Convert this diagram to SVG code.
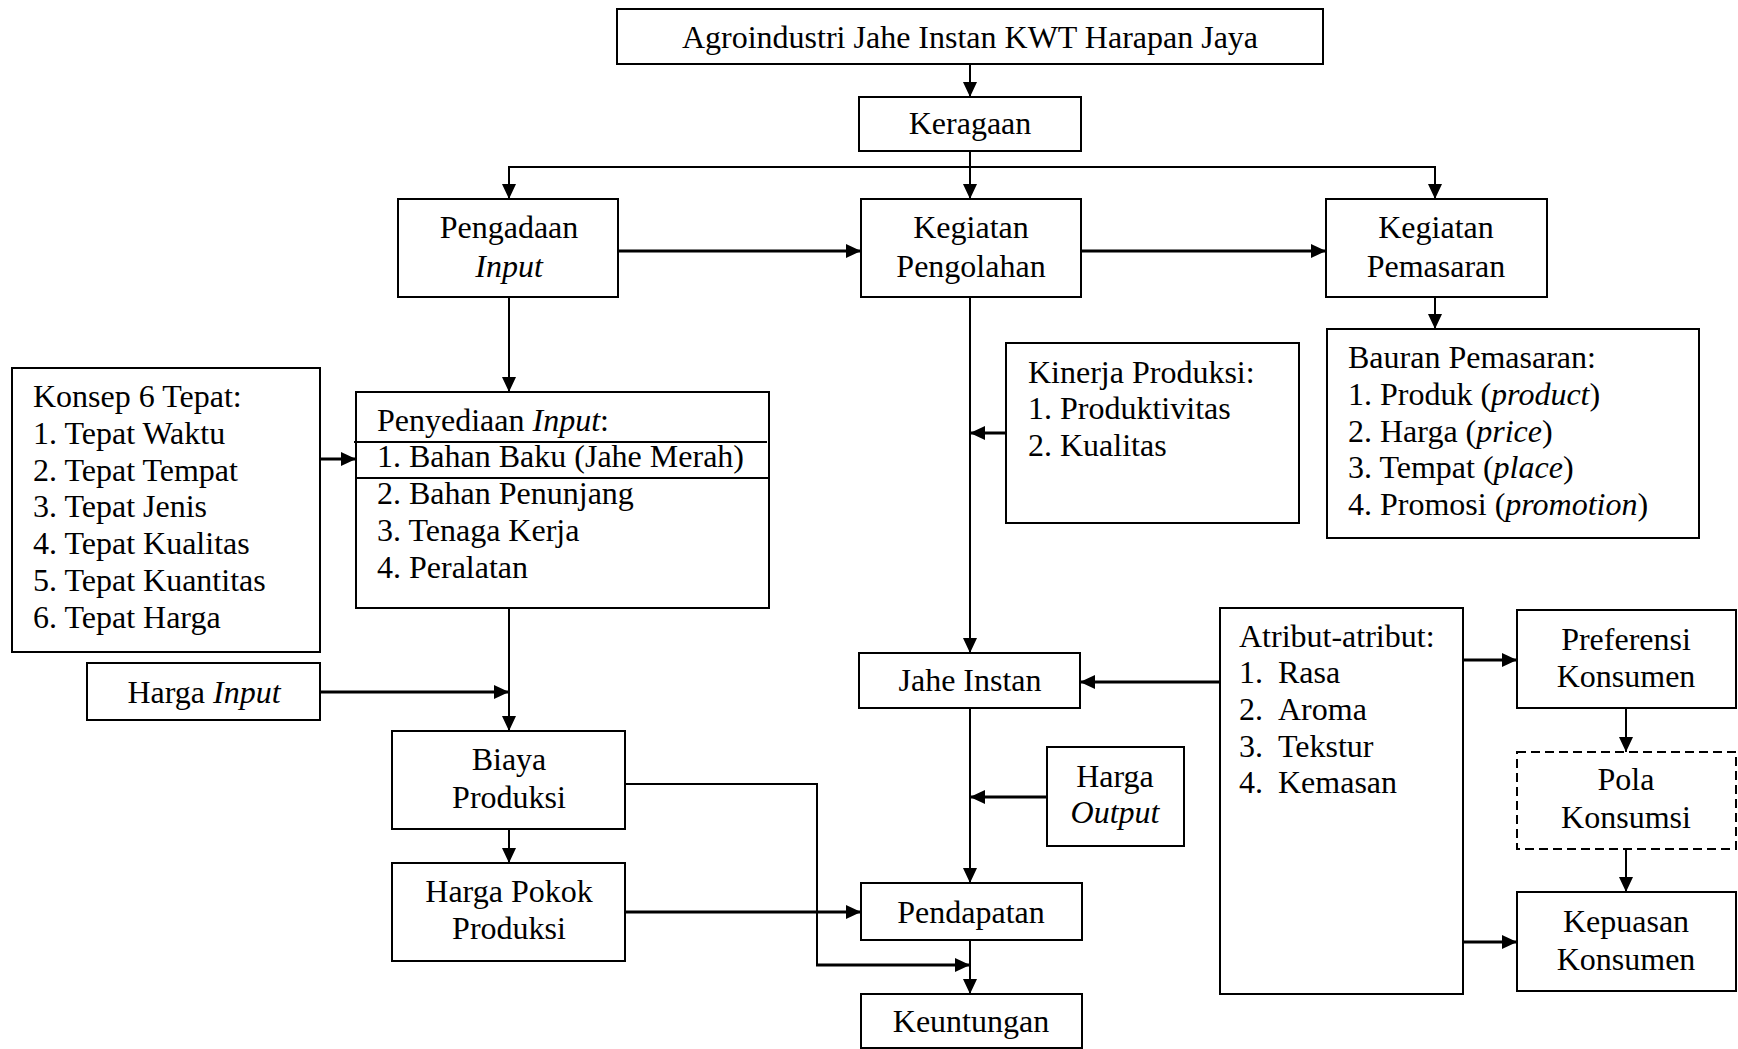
<svg xmlns="http://www.w3.org/2000/svg" width="1738" height="1049" viewBox="0 0 1738 1049">
  <defs>
    <marker id="arrow" markerUnits="userSpaceOnUse" viewBox="0 0 15 14" refX="15" refY="7" markerWidth="15" markerHeight="14" orient="auto">
      <path d="M0,0 L15,7 L0,14 z" fill="#000"/>
    </marker>
    <style>
      .box { fill: #fff; stroke: #000; stroke-width: 2; }
      .dash { fill: #fff; stroke: #000; stroke-width: 2; stroke-dasharray: 9 5; }
      .ln { fill: none; stroke: #000; stroke-width: 2; }
      .th { fill: none; stroke: #000; stroke-width: 3; }
      text { font-family: "Liberation Serif", "Times New Roman", serif; font-size: 32px; fill: #000; }
      .c { text-anchor: middle; }
      .i { font-style: italic; }
    </style>
  </defs>
  <rect width="1738" height="1049" fill="#fff"/>

  <!-- connectors -->
  <g id="connectors">
    <line class="ln" x1="970" y1="64" x2="970" y2="97" marker-end="url(#arrow)"/>
    <line class="ln" x1="970" y1="151" x2="970" y2="199" marker-end="url(#arrow)"/>
    <polyline class="ln" points="509,199 509,167 1435,167 1435,199" marker-end="url(#arrow)"/>
    <line class="ln" x1="509" y1="167" x2="509" y2="199" marker-end="url(#arrow)"/>
    <line class="th" x1="617" y1="251" x2="861" y2="251" marker-end="url(#arrow)"/>
    <line class="th" x1="1081" y1="251" x2="1326" y2="251" marker-end="url(#arrow)"/>
    <line class="ln" x1="1435" y1="297" x2="1435" y2="329" marker-end="url(#arrow)"/>
    <line class="ln" x1="509" y1="297" x2="509" y2="392" marker-end="url(#arrow)"/>
    <line class="th" x1="320" y1="459" x2="356" y2="459" marker-end="url(#arrow)"/>
    <line class="ln" x1="509" y1="608" x2="509" y2="731" marker-end="url(#arrow)"/>
    <line class="th" x1="320" y1="692" x2="509" y2="692" marker-end="url(#arrow)"/>
    <line class="ln" x1="509" y1="829" x2="509" y2="863" marker-end="url(#arrow)"/>
    <line class="ln" x1="970" y1="297" x2="970" y2="653" marker-end="url(#arrow)"/>
    <line class="th" x1="1006" y1="433" x2="970" y2="433" marker-end="url(#arrow)"/>
    <line class="th" x1="1220" y1="682" x2="1080" y2="682" marker-end="url(#arrow)"/>
    <line class="th" x1="1463" y1="660" x2="1517" y2="660" marker-end="url(#arrow)"/>
    <line class="th" x1="1463" y1="942" x2="1517" y2="942" marker-end="url(#arrow)"/>
    <line class="ln" x1="1626" y1="708" x2="1626" y2="752" marker-end="url(#arrow)"/>
    <line class="ln" x1="1626" y1="849" x2="1626" y2="892" marker-end="url(#arrow)"/>
    <line class="ln" x1="970" y1="708" x2="970" y2="883" marker-end="url(#arrow)"/>
    <line class="th" x1="1047" y1="797" x2="970" y2="797" marker-end="url(#arrow)"/>
    <line class="th" x1="625" y1="912" x2="861" y2="912" marker-end="url(#arrow)"/>
    <line class="ln" x1="970" y1="940" x2="970" y2="994" marker-end="url(#arrow)"/>
    <polyline class="ln" points="625,784 817,784 817,965"/>
    <line class="th" x1="816" y1="965" x2="970" y2="965" marker-end="url(#arrow)"/>
  </g>

  <!-- nodes -->
  <g id="title">
    <rect class="box" x="617" y="9" width="706" height="55"/>
    <text class="c" x="970" y="48">Agroindustri Jahe Instan KWT Harapan Jaya</text>
  </g>
  <g id="keragaan">
    <rect class="box" x="859" y="97" width="222" height="54"/>
    <text class="c" x="970" y="134">Keragaan</text>
  </g>
  <g id="pengadaan-input">
    <rect class="box" x="398" y="199" width="220" height="98"/>
    <text class="c" x="509" y="238">Pengadaan</text>
    <text class="c i" x="509" y="277">Input</text>
  </g>
  <g id="kegiatan-pengolahan">
    <rect class="box" x="861" y="199" width="220" height="98"/>
    <text class="c" x="971" y="238">Kegiatan</text>
    <text class="c" x="971" y="277">Pengolahan</text>
  </g>
  <g id="kegiatan-pemasaran">
    <rect class="box" x="1326" y="199" width="221" height="98"/>
    <text class="c" x="1436" y="238">Kegiatan</text>
    <text class="c" x="1436" y="277">Pemasaran</text>
  </g>
  <g id="bauran-pemasaran">
    <rect class="box" x="1327" y="329" width="372" height="209"/>
    <text x="1348" y="368">Bauran Pemasaran:</text>
    <text x="1348" y="405">1. Produk (<tspan class="i">product</tspan>)</text>
    <text x="1348" y="442">2. Harga (<tspan class="i">price</tspan>)</text>
    <text x="1348" y="478">3. Tempat (<tspan class="i">place</tspan>)</text>
    <text x="1348" y="515">4. Promosi (<tspan class="i">promotion</tspan>)</text>
  </g>
  <g id="kinerja-produksi">
    <rect class="box" x="1006" y="343" width="293" height="180"/>
    <text x="1028" y="383">Kinerja Produksi:</text>
    <text x="1028" y="419">1. Produktivitas</text>
    <text x="1028" y="456">2. Kualitas</text>
  </g>
  <g id="konsep-6-tepat">
    <rect class="box" x="12" y="368" width="308" height="284"/>
    <text x="33" y="407">Konsep 6 Tepat:</text>
    <text x="33" y="444">1. Tepat Waktu</text>
    <text x="33" y="481">2. Tepat Tempat</text>
    <text x="33" y="517">3. Tepat Jenis</text>
    <text x="33" y="554">4. Tepat Kualitas</text>
    <text x="33" y="591">5. Tepat Kuantitas</text>
    <text x="33" y="628">6. Tepat Harga</text>
  </g>
  <g id="penyediaan-input">
    <rect class="box" x="356" y="392" width="413" height="216"/>
    <line class="ln" x1="354" y1="442" x2="767" y2="442"/>
    <line class="ln" x1="356" y1="478" x2="769" y2="478"/>
    <text x="377" y="431">Penyediaan <tspan class="i">Input</tspan>:</text>
    <text x="377" y="467">1. Bahan Baku (Jahe Merah)</text>
    <text x="377" y="504">2. Bahan Penunjang</text>
    <text x="377" y="541">3. Tenaga Kerja</text>
    <text x="377" y="578">4. Peralatan</text>
  </g>
  <g id="harga-input">
    <rect class="box" x="87" y="663" width="233" height="57"/>
    <text class="c" x="204" y="703">Harga <tspan class="i">Input</tspan></text>
  </g>
  <g id="biaya-produksi">
    <rect class="box" x="392" y="731" width="233" height="98"/>
    <text class="c" x="509" y="770">Biaya</text>
    <text class="c" x="509" y="808">Produksi</text>
  </g>
  <g id="harga-pokok-produksi">
    <rect class="box" x="392" y="863" width="233" height="98"/>
    <text class="c" x="509" y="902">Harga Pokok</text>
    <text class="c" x="509" y="939">Produksi</text>
  </g>
  <g id="jahe-instan">
    <rect class="box" x="859" y="653" width="221" height="55"/>
    <text class="c" x="970" y="691">Jahe Instan</text>
  </g>
  <g id="atribut">
    <rect class="box" x="1220" y="608" width="243" height="386"/>
    <text x="1239" y="647">Atribut-atribut:</text>
    <text x="1239" y="683">1.</text><text x="1278" y="683">Rasa</text>
    <text x="1239" y="720">2.</text><text x="1278" y="720">Aroma</text>
    <text x="1239" y="757">3.</text><text x="1278" y="757">Tekstur</text>
    <text x="1239" y="793">4.</text><text x="1278" y="793">Kemasan</text>
  </g>
  <g id="preferensi-konsumen">
    <rect class="box" x="1517" y="610" width="219" height="98"/>
    <text class="c" x="1626" y="650">Preferensi</text>
    <text class="c" x="1626" y="687">Konsumen</text>
  </g>
  <g id="pola-konsumsi">
    <rect class="dash" x="1517" y="752" width="219" height="97"/>
    <text class="c" x="1626" y="790">Pola</text>
    <text class="c" x="1626" y="828">Konsumsi</text>
  </g>
  <g id="kepuasan-konsumen">
    <rect class="box" x="1517" y="892" width="219" height="99"/>
    <text class="c" x="1626" y="932">Kepuasan</text>
    <text class="c" x="1626" y="970">Konsumen</text>
  </g>
  <g id="harga-output">
    <rect class="box" x="1047" y="747" width="137" height="99"/>
    <text class="c" x="1115" y="787">Harga</text>
    <text class="c i" x="1115" y="823">Output</text>
  </g>
  <g id="pendapatan">
    <rect class="box" x="861" y="883" width="221" height="57"/>
    <text class="c" x="971" y="923">Pendapatan</text>
  </g>
  <g id="keuntungan">
    <rect class="box" x="861" y="994" width="221" height="54"/>
    <text class="c" x="971" y="1032">Keuntungan</text>
  </g>
</svg>
